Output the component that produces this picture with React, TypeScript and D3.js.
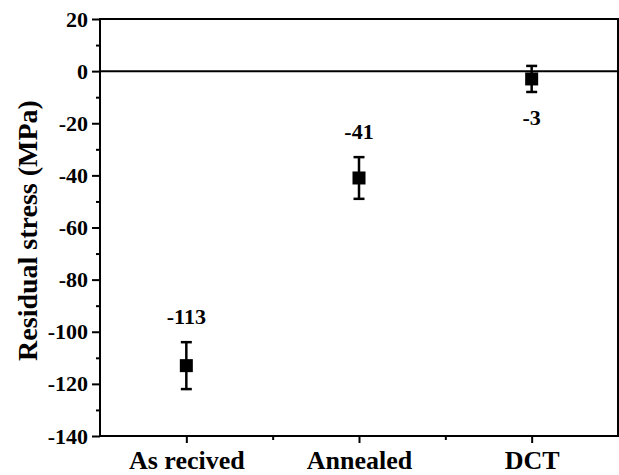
import { useEffect, useRef } from 'react';
import * as d3 from 'd3';

const categories = ['As recived', 'Annealed', 'DCT'];
const stress = [-113, -41, -3];
const errors = [9, 8, 5];
const labelSide = ['above', 'above', 'below'];
const yMajorTicks = [20, 0, -20, -40, -60, -80, -100, -120, -140];
const yMinorTicks = [10, -10, -30, -50, -70, -90, -110, -130];

const W = 619;
const H = 475;
const FONT = "'Liberation Serif', 'Times New Roman', Times, serif";

function App() {
  const svgRef = useRef(null);

  useEffect(() => {
    const svg = d3.select(svgRef.current);
    svg.selectAll('*').remove();

    const left = 100;
    const right = 618;
    const top = 19;
    const bottom = 436;

    const x = d3.scaleLinear().domain([0, 3]).range([left, right]);
    const y = d3.scaleLinear().domain([-140, 20]).range([bottom, top]);

    // frame
    svg
      .append('rect')
      .attr('x', left)
      .attr('y', top)
      .attr('width', right - left)
      .attr('height', bottom - top)
      .attr('fill', 'none')
      .attr('stroke', '#000')
      .attr('stroke-width', 2);

    // zero line
    svg
      .append('line')
      .attr('x1', left)
      .attr('x2', right)
      .attr('y1', y(0))
      .attr('y2', y(0))
      .attr('stroke', '#000')
      .attr('stroke-width', 2);

    // y axis
    const yAxis = d3
      .axisLeft(y)
      .tickValues(yMajorTicks)
      .tickSize(8)
      .tickPadding(4)
      .tickFormat((d) => String(d));
    const gy = svg.append('g').attr('transform', `translate(${left},0)`).call(yAxis);
    gy.select('.domain').remove();
    gy.selectAll('.tick line').attr('stroke-width', 2);
    gy.selectAll('.tick text')
      .style('font-family', FONT)
      .style('font-size', '22px')
      .style('font-weight', 'bold')
      .attr('fill', '#000');

    const yMinor = d3.axisLeft(y).tickValues(yMinorTicks).tickSize(4).tickFormat(() => '');
    const gym = svg.append('g').attr('transform', `translate(${left},0)`).call(yMinor);
    gym.select('.domain').remove();
    gym.selectAll('.tick line').attr('stroke-width', 2);

    // x axis
    const xAxis = d3
      .axisBottom(x)
      .tickValues([0.5, 1.5, 2.5])
      .tickSize(7)
      .tickPadding(8)
      .tickFormat((d, i) => categories[i]);
    const gx = svg.append('g').attr('transform', `translate(0,${bottom})`).call(xAxis);
    gx.select('.domain').remove();
    gx.selectAll('.tick line').attr('stroke-width', 2);
    gx.selectAll('.tick text')
      .style('font-family', FONT)
      .style('font-size', '26px')
      .style('font-weight', 'bold')
      .attr('fill', '#000');

    const xMinor = d3.axisBottom(x).tickValues([1, 2]).tickSize(4).tickFormat(() => '');
    const gxm = svg.append('g').attr('transform', `translate(0,${bottom})`).call(xMinor);
    gxm.select('.domain').remove();
    gxm.selectAll('.tick line').attr('stroke-width', 2);

    // y title
    svg
      .append('text')
      .attr('transform', `translate(37,${(98 + 363) / 2}) rotate(-90)`)
      .attr('text-anchor', 'middle')
      .style('font-family', FONT)
      .style('font-size', '28px')
      .style('font-weight', 'bold')
      .text('Residual stress (MPa)');

    // points with error bars
    const capW = 11;
    const sq = 13;
    const pts = svg
      .selectAll('g.pt')
      .data(stress)
      .enter()
      .append('g')
      .attr('class', 'pt');

    pts
      .append('line')
      .attr('x1', (d, i) => x(i + 0.5))
      .attr('x2', (d, i) => x(i + 0.5))
      .attr('y1', (d, i) => y(d + errors[i]))
      .attr('y2', (d, i) => y(d - errors[i]))
      .attr('stroke', '#000')
      .attr('stroke-width', 2.5);
    [1, -1].forEach((s) => {
      pts
        .append('line')
        .attr('x1', (d, i) => x(i + 0.5) - capW / 2)
        .attr('x2', (d, i) => x(i + 0.5) + capW / 2)
        .attr('y1', (d, i) => y(d + s * errors[i]))
        .attr('y2', (d, i) => y(d + s * errors[i]))
        .attr('stroke', '#000')
        .attr('stroke-width', 2.5);
    });
    pts
      .append('rect')
      .attr('x', (d, i) => x(i + 0.5) - sq / 2)
      .attr('y', (d) => y(d) - sq / 2)
      .attr('width', sq)
      .attr('height', sq)
      .attr('fill', '#000');

    pts
      .append('text')
      .attr('x', (d, i) => x(i + 0.5))
      .attr('y', (d, i) =>
        labelSide[i] === 'above' ? y(d + errors[i]) - 18 : y(d - errors[i]) + 33
      )
      .attr('text-anchor', 'middle')
      .style('font-family', FONT)
      .style('font-size', '22px')
      .style('font-weight', 'bold')
      .text((d) => d);
  }, []);

  return (
    <div style={{ position: 'fixed', left: 0, top: 0 }}>
      <svg ref={svgRef} width={W} height={H} style={{ display: 'block', background: '#fff' }} />
    </div>
  );
}

export default App;
